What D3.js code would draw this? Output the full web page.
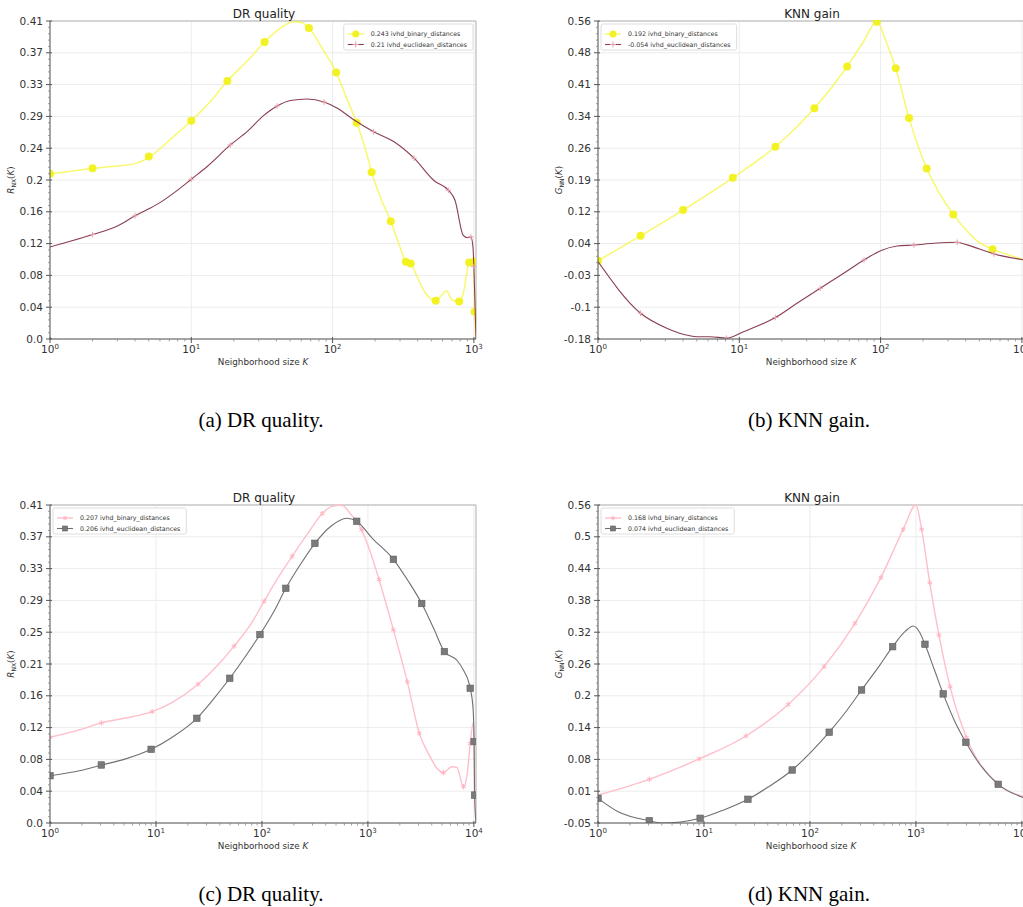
<!DOCTYPE html>
<html>
<head>
<meta charset="utf-8">
<script src="https://cdn.jsdelivr.net/npm/d3@7"></script>
<style>
  body { margin: 0; background: #fff; }
  svg { display: block; }
  .tick-label { font-family: "DejaVu Sans", sans-serif; font-size: 10.5px; fill: #333; }
  .axis-title { font-family: "DejaVu Sans", sans-serif; font-size: 8.8px; fill: #333; }
  .panel-title { font-family: "DejaVu Sans", sans-serif; font-size: 12px; fill: #222; }
  .legend-text { font-family: "DejaVu Sans", sans-serif; font-size: 6.3px; fill: #333; }
  .caption { font-family: "Liberation Serif", "Times New Roman", serif; font-size: 21px; fill: #000; }
</style>
</head>
<body>
<svg id="fig" width="1023" height="907"></svg>
<script>
// ---------- data: neighborhood size K and quality / gain values ----------

// (a) DR quality, R_NX(K)
const aBinaryLine = [[1,0.212],[1.5,0.216],[2,0.219],[3,0.222],[4,0.225],[5,0.233],[7,0.255],[10,0.280],[14,0.307],[18,0.331],[25,0.357],[33,0.381],[42,0.398],[53,0.407],[60,0.406],[68,0.399],[85,0.372],[106,0.342],[125,0.310],[148,0.2775],[170,0.245],[189,0.214],[220,0.180],[258,0.151],[300,0.118],[330,0.099],[357,0.097],[400,0.078],[450,0.060],[537,0.049],[590,0.056],[640,0.062],[700,0.050],[787,0.048],[850,0.062],[900,0.090],[926,0.098],[1000,0.099],[1012,0.035],[1035,0.0]];
const aBinaryMarks = [[1,0.212],[2,0.219],[5,0.234],[10,0.280],[18,0.331],[33,0.381],[68,0.399],[106,0.342],[148,0.2775],[189,0.214],[258,0.151],[330,0.099],[357,0.097],[537,0.049],[787,0.048],[926,0.098],[1000,0.099],[1012,0.035]];
const aEuclidLine = [[1,0.118],[2,0.134],[3,0.145],[4,0.158],[5,0.167],[6,0.175],[8,0.191],[10,0.205],[12.9,0.221],[18.9,0.249],[24.8,0.266],[32.6,0.287],[40.5,0.299],[50.4,0.306],[66,0.308],[87,0.304],[108,0.296],[142,0.281],[195,0.266],[272,0.253],[377,0.232],[524,0.203],[659,0.191],[735,0.178],[841,0.133],[902,0.130],[953,0.131],[985,0.118],[1000,0.093],[1035,0.0]];
const aEuclidMarks = [[2,0.134],[4,0.158],[10,0.205],[18.9,0.249],[40.5,0.299],[87,0.304],[195,0.266],[377,0.232],[659,0.191],[953,0.131],[1000,0.093]];

// (b) KNN gain, G_NN(K)
const bBinaryLine = [[1,0.002],[2,0.060],[4,0.120],[9,0.195],[18,0.2675],[34,0.357],[58,0.454],[75,0.510],[94,0.558],[110,0.510],[128,0.450],[159,0.334],[212,0.217],[260,0.160],[327,0.110],[400,0.075],[475,0.050],[620,0.029],[800,0.016],[1035,0.004]];
const bBinaryMarks = [[1,0.002],[2,0.060],[4,0.120],[9,0.195],[18,0.2675],[34,0.357],[58,0.454],[94,0.558],[128,0.450],[159,0.334],[212,0.217],[327,0.110],[620,0.029]];
const bEuclidLine = [[1,0.0],[2,-0.120],[3.07,-0.155],[4,-0.169],[5,-0.1746],[6.2,-0.1746],[8.1,-0.178],[10.7,-0.163],[18,-0.130],[25.6,-0.097],[37.4,-0.062],[54.8,-0.027],[76.3,0.004],[100,0.0255],[131,0.0364],[172,0.0387],[239,0.0427],[349,0.045],[410,0.039],[634,0.018],[1035,0.004]];
const bEuclidMarks = [[2,-0.120],[8.1,-0.178],[18,-0.130],[37.4,-0.062],[76.3,0.004],[172,0.0387],[349,0.045],[634,0.018]];

// (c) DR quality, R_NX(K)
const cBinaryLine = [[1,0.1105],[2,0.121],[3.05,0.129],[5,0.135],[9.2,0.1435],[14,0.155],[25,0.179],[38,0.203],[54.6,0.228],[80,0.258],[105,0.286],[140,0.315],[193,0.344],[270,0.373],[371,0.399],[450,0.408],[560,0.410],[700,0.397],[873,0.378],[1050,0.350],[1273,0.314],[1740,0.249],[2355,0.182],[3055,0.1156],[3863,0.0855],[4470,0.0705],[5160,0.065],[6195,0.0726],[6905,0.0718],[7980,0.0468],[8590,0.0597],[9230,0.1027],[9910,0.130],[10200,0.050],[10470,0.0]];
const cBinaryMarks = [[1,0.1105],[3.05,0.129],[9.2,0.1435],[25,0.179],[54.6,0.228],[105,0.286],[193,0.344],[371,0.399],[873,0.378],[1273,0.314],[1740,0.249],[2355,0.182],[3055,0.1156],[5160,0.065],[7980,0.0468],[9230,0.1027]];
const cEuclidLine = [[1,0.061],[2,0.068],[3.05,0.0748],[5,0.082],[9,0.095],[14,0.110],[24.3,0.135],[35,0.160],[49.7,0.1866],[70,0.215],[95.8,0.243],[130,0.273],[168,0.3026],[230,0.333],[316,0.3606],[450,0.383],[630,0.393],[784,0.389],[1100,0.367],[1740,0.340],[2400,0.312],[3220,0.283],[4200,0.250],[5270,0.221],[6905,0.210],[7980,0.197],[9230,0.1737],[9800,0.150],[10050,0.105],[10150,0.036],[10470,0.0]];
const cEuclidMarks = [[1,0.061],[3.05,0.0748],[9,0.095],[24.3,0.135],[49.7,0.1866],[95.8,0.243],[168,0.3026],[316,0.3606],[784,0.389],[1740,0.340],[3220,0.283],[5270,0.221],[9230,0.1737],[10050,0.105],[10150,0.036]];

// (d) KNN gain, G_NN(K)
const dBinaryLine = [[1,0.0074],[3.05,0.0373],[9,0.076],[24.9,0.1198],[62.4,0.180],[136,0.252],[266,0.3346],[468,0.422],[760,0.5137],[1000,0.560],[1132,0.5137],[1350,0.412],[1650,0.312],[2100,0.2137],[3000,0.117],[5770,0.0308],[10470,0.004]];
const dBinaryMarks = [[3.05,0.0373],[9,0.076],[24.9,0.1198],[62.4,0.180],[136,0.252],[266,0.3346],[468,0.422],[760,0.5137],[1132,0.5137],[1350,0.412],[1650,0.312],[2100,0.2137],[3000,0.117],[5770,0.0308]];
const dEuclidLine = [[1,0.001],[1.55,-0.0245],[3.05,-0.0416],[4.1,-0.046],[6,-0.044],[9.2,-0.037],[15,-0.022],[26,-0.0008],[40,0.022],[68,0.055],[100,0.087],[152,0.127],[220,0.167],[307,0.2075],[450,0.253],[603,0.290],[800,0.320],[944,0.3294],[1080,0.318],[1217,0.2946],[1500,0.245],[1810,0.200],[2300,0.150],[2960,0.1078],[4000,0.066],[5980,0.0277],[10470,0.002]];
const dEuclidMarks = [[1,0.001],[3.05,-0.0416],[9.2,-0.037],[26,-0.0008],[68,0.055],[152,0.127],[307,0.2075],[603,0.290],[1217,0.2946],[1810,0.200],[2960,0.1078],[5980,0.0277]];

// tick labels (evenly spaced across each y range)
const aYTicks = ["0.0","0.04","0.08","0.12","0.16","0.2","0.24","0.29","0.33","0.37","0.41"];
const bYTicks = ["-0.18","-0.1","-0.03","0.04","0.12","0.19","0.26","0.34","0.41","0.48","0.56"];
const cYTicks = ["0.0","0.04","0.08","0.12","0.16","0.21","0.25","0.29","0.33","0.37","0.41"];
const dYTicks = ["-0.05","0.01","0.08","0.14","0.2","0.26","0.32","0.38","0.44","0.5","0.56"];
const topXDecades = [0, 1, 2, 3];
const bottomXDecades = [0, 1, 2, 3, 4];

// y ranges and x upper limits
const aYRange = [0, 0.408], bYRange = [-0.18, 0.56], cYRange = [0, 0.41], dYRange = [-0.046, 0.56];
const topKMax = 1035, bottomKMax = 10470;

// legend labels
const aLegend = ["0.243 ivhd_binary_distances", "0.21 ivhd_euclidean_distances"];
const bLegend = ["0.192 ivhd_binary_distances", "-0.054 ivhd_euclidean_distances"];
const cLegend = ["0.207 ivhd_binary_distances", "0.206 ivhd_euclidean_distances"];
const dLegend = ["0.168 ivhd_binary_distances", "0.074 ivhd_euclidean_distances"];

// ---------- styles ----------
const styles = {
  yellow: { line: "#f6f64a", lineWidth: 1.5, lineOpacity: 0.8, mark: "circle", fill: "#f1f11a", size: 4 },
  maroon: { line: "#8a3f52", lineWidth: 1.1, lineOpacity: 1, mark: "plus", fill: "#e8a0ac", size: 12 },
  pink:   { line: "#ffbfca", lineWidth: 1.4, lineOpacity: 1, mark: "asterisk", fill: "#ffb3c1", size: 20 },
  gray:   { line: "#707070", lineWidth: 1.1, lineOpacity: 1, mark: "square", fill: "#7a7a7a", size: 6.5 }
};

const panels = [
  { left: 50, top: 21, kMax: topKMax, decades: topXDecades, yRange: aYRange, yTicks: aYTicks,
    title: "DR quality", ySym: "R", ySub: "NX", caption: "(a) DR quality.", captionY: 427, legend: aLegend, legendRight: true,
    series: [[aBinaryLine, aBinaryMarks, "yellow"], [aEuclidLine, aEuclidMarks, "maroon"]] },
  { left: 598, top: 21, kMax: topKMax, decades: topXDecades, yRange: bYRange, yTicks: bYTicks,
    title: "KNN gain", ySym: "G", ySub: "NN", caption: "(b) KNN gain.", captionY: 427, legend: bLegend, legendRight: false,
    series: [[bBinaryLine, bBinaryMarks, "yellow"], [bEuclidLine, bEuclidMarks, "maroon"]] },
  { left: 50, top: 505, kMax: bottomKMax, decades: bottomXDecades, yRange: cYRange, yTicks: cYTicks,
    title: "DR quality", ySym: "R", ySub: "NX", caption: "(c) DR quality.", captionY: 901, legend: cLegend, legendRight: false,
    series: [[cBinaryLine, cBinaryMarks, "pink"], [cEuclidLine, cEuclidMarks, "gray"]] },
  { left: 598, top: 505, kMax: bottomKMax, decades: bottomXDecades, yRange: dYRange, yTicks: dYTicks,
    title: "KNN gain", ySym: "G", ySub: "NN", caption: "(d) KNN gain.", captionY: 901, legend: dLegend, legendRight: false,
    series: [[dBinaryLine, dBinaryMarks, "pink"], [dEuclidLine, dEuclidMarks, "gray"]] }
];

const W = 426, H = 318;
const svg = d3.select("#fig");

function drawMarker(sel, st) {
  if (st.mark === "circle") {
    sel.append("circle").attr("r", st.size).attr("fill", st.fill).attr("opacity", 0.95);
  } else if (st.mark === "square") {
    sel.append("rect").attr("x", -st.size / 2).attr("y", -st.size / 2)
      .attr("width", st.size).attr("height", st.size)
      .attr("fill", st.fill).attr("stroke", "#606060").attr("stroke-width", 0.6);
  } else {
    const type = st.mark === "plus" ? d3.symbolPlus : (d3.symbolAsterisk || d3.symbolCross);
    sel.append("path").attr("d", d3.symbol(type, st.size)())
      .attr("fill", "none").attr("stroke", st.fill).attr("stroke-width", 1);
  }
}

panels.forEach((p, pi) => {
  const g = svg.append("g").attr("transform", `translate(${p.left},${p.top})`);
  const x = d3.scaleLog().domain([1, p.kMax]).range([0, W]);
  const y = d3.scaleLinear().domain(p.yRange).range([H, 0]);
  const n = p.yTicks.length;
  const tickVals = p.yTicks.map((_, i) => p.yRange[0] + i * (p.yRange[1] - p.yRange[0]) / (n - 1));

  // grid
  const grid = g.append("g").attr("stroke", "#ececec").attr("stroke-width", 1);
  p.decades.forEach(e => grid.append("line").attr("x1", x(10 ** e)).attr("x2", x(10 ** e)).attr("y1", 0).attr("y2", H));
  tickVals.forEach(v => grid.append("line").attr("x1", 0).attr("x2", W).attr("y1", y(v)).attr("y2", y(v)));

  // frame: light top / right, darker left / bottom
  g.append("line").attr("x1", 0).attr("x2", W).attr("y1", 0).attr("y2", 0).attr("stroke", "#c8c8c8").attr("stroke-width", 1.5);
  g.append("line").attr("x1", W).attr("x2", W).attr("y1", 0).attr("y2", H).attr("stroke", "#c8c8c8").attr("stroke-width", 1.5);

  // data
  const clipId = "clip" + pi;
  g.append("clipPath").attr("id", clipId).append("rect").attr("x", 0).attr("y", -1).attr("width", W).attr("height", H + 1);
  const plot = g.append("g").attr("clip-path", `url(#${clipId})`);
  const line = d3.line().x(d => x(d[0])).y(d => y(d[1])).curve(d3.curveMonotoneX);
  p.series.forEach(([pts, marks, key]) => {
    const st = styles[key];
    plot.append("path").datum(pts).attr("d", line).attr("fill", "none")
      .attr("stroke", st.line).attr("stroke-width", st.lineWidth).attr("stroke-opacity", st.lineOpacity);
    plot.selectAll(null).data(marks).enter().append("g")
      .attr("transform", d => `translate(${x(d[0])},${y(d[1])})`)
      .each(function () { drawMarker(d3.select(this), st); });
  });

  // axes
  const axisColor = "#555";
  g.append("line").attr("x1", 0).attr("x2", 0).attr("y1", 0).attr("y2", H).attr("stroke", axisColor).attr("stroke-width", 1);
  g.append("line").attr("x1", 0).attr("x2", W).attr("y1", H).attr("y2", H).attr("stroke", axisColor).attr("stroke-width", 1);

  // y ticks + minor ticks
  tickVals.forEach((v, i) => {
    g.append("line").attr("x1", -4).attr("x2", 2).attr("y1", y(v)).attr("y2", y(v)).attr("stroke", axisColor);
    g.append("text").attr("class", "tick-label").attr("x", -7).attr("y", y(v) + 3.6)
      .attr("text-anchor", "end").text(p.yTicks[i]);
    if (i < n - 1) {
      const step = (tickVals[1] - tickVals[0]) / 5;
      for (let k = 1; k < 5; k++) {
        const yy = y(v + k * step);
        g.append("line").attr("x1", -2).attr("x2", 0).attr("y1", yy).attr("y2", yy).attr("stroke", "#888").attr("stroke-width", 0.8);
      }
    }
  });

  // x ticks (log decades + minor)
  p.decades.forEach(e => {
    const xx = x(10 ** e);
    g.append("line").attr("x1", xx).attr("x2", xx).attr("y1", H - 2).attr("y2", H + 4).attr("stroke", axisColor);
    const t = g.append("text").attr("class", "tick-label").attr("x", xx).attr("y", H + 14).attr("text-anchor", "middle");
    t.append("tspan").text("10");
    t.append("tspan").attr("dy", -4.5).attr("font-size", "7px").text(e);
    for (let m = 2; m <= 9; m++) {
      const k = m * 10 ** e;
      if (k > p.kMax) break;
      g.append("line").attr("x1", x(k)).attr("x2", x(k)).attr("y1", H).attr("y2", H + 2.5).attr("stroke", "#888").attr("stroke-width", 0.8);
    }
  });

  // labels
  const xl = g.append("text").attr("class", "axis-title").attr("x", W / 2).attr("y", H + 25.5).attr("text-anchor", "middle");
  xl.append("tspan").text("Neighborhood size ");
  xl.append("tspan").attr("font-style", "italic").text("K");

  const yl = g.append("text").attr("class", "axis-title")
    .attr("transform", `translate(-36,${H / 2}) rotate(-90)`).attr("text-anchor", "middle");
  yl.append("tspan").attr("font-style", "italic").text(p.ySym);
  yl.append("tspan").attr("font-size", "6px").attr("dy", 2).text(p.ySub);
  yl.append("tspan").attr("dy", -2).text("(");
  yl.append("tspan").attr("font-style", "italic").text("K");
  yl.append("tspan").text(")");

  g.append("text").attr("class", "panel-title").attr("x", W / 2 + 1).attr("y", -3).attr("text-anchor", "middle").text(p.title);

  // legend
  const lg = g.append("g");
  const box = lg.append("rect").attr("fill", "#fff").attr("fill-opacity", 0.85)
    .attr("stroke", "#d6d6d6").attr("stroke-width", 0.8).attr("rx", 2);
  let maxW = 0;
  p.series.forEach(([, , key], i) => {
    const st = styles[key];
    const yy = 10 + i * 10.5;
    lg.append("line").attr("x1", 4).attr("x2", 20).attr("y1", yy).attr("y2", yy)
      .attr("stroke", st.line).attr("stroke-width", st.lineWidth).attr("stroke-opacity", st.lineOpacity);
    const mg = lg.append("g").attr("transform", `translate(12,${yy})`);
    drawMarker(mg, Object.assign({}, st, { size: st.mark === "circle" ? 3.5 : (st.mark === "square" ? 5 : 14) }));
    const t = lg.append("text").attr("class", "legend-text").attr("x", 27).attr("y", yy + 2).text(p.legend[i]);
    maxW = Math.max(maxW, t.node().getComputedTextLength());
  });
  const bw = 27 + maxW + 6, bh = 26;
  box.attr("x", 0).attr("y", 0).attr("width", bw).attr("height", bh);
  const lx = p.legendRight ? W - bw - 3 : 3;
  lg.attr("transform", `translate(${lx},3)`);

  // caption
  svg.append("text").attr("class", "caption").attr("x", p.left + W / 2 - 2).attr("y", p.captionY)
    .attr("text-anchor", "middle").text(p.caption);
});
</script>
</body>
</html>
